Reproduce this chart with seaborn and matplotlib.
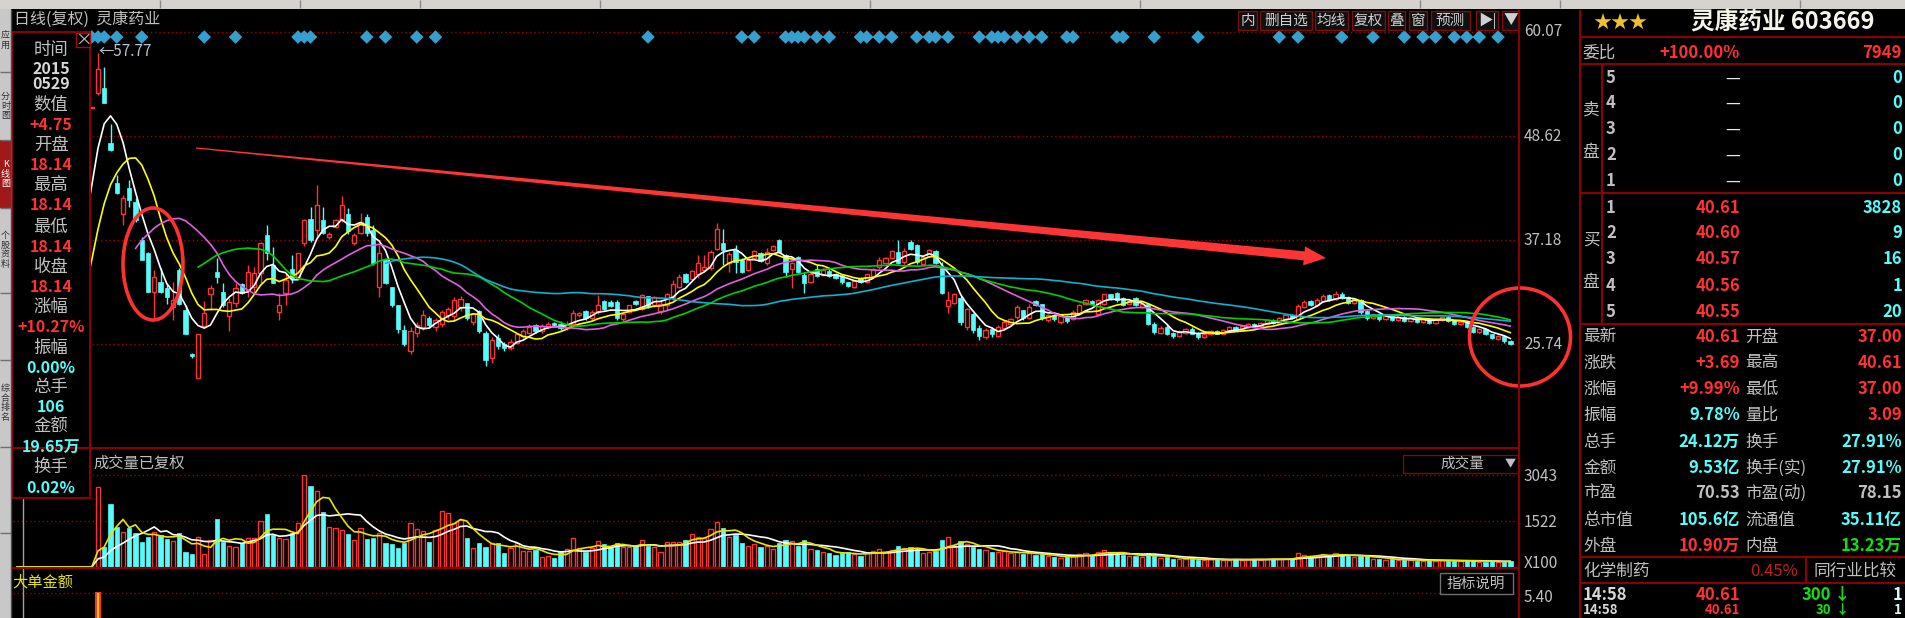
import numpy as np
import pandas as pd
import matplotlib
matplotlib.use("Agg")
import matplotlib.pyplot as plt
from matplotlib.patches import Rectangle, Ellipse, Polygon
import seaborn as sns

# ---------------- data ----------------
# first 13 days (IPO + limit-up run) lie under the info panel; visible days follow
open_px = [13.70, 18.14, 19.95, 21.95, 24.15, 26.56, 29.22, 32.14, 35.35, 38.89, 42.78, 47.06, 51.76,
           53.4, 53.9, 47.9, 43.5, 40.0, 42.9, 41.4, 37.2, 35.8, 31.5,
           32.6, 31.9, 29.8, 33.9, 29.5, 24.6, 22.0, 27.7, 31.3, 33.7,
           31.5, 28.8, 30.3, 32.4, 31.7, 32.0, 33.6, 37.7, 34.4, 29.3,
           31.4, 34.0, 33.1, 36.9, 39.5, 38.3, 39.4, 37.5, 38.6, 39.4,
           40.0, 36.9, 38.0, 39.7, 38.3, 32.0, 35.0, 32.0, 30.0, 27.3,
           25.0, 27.0, 27.6, 28.6, 27.6, 28.0, 28.9, 28.8, 29.8, 30.3,
           28.2, 29.4, 27.0, 24.2, 26.4, 25.7, 25.3, 25.9, 26.6, 27.0,
           27.8, 27.2, 27.6, 28.1, 28.0, 27.5, 28.0, 28.9, 29.4, 28.6,
           29.3, 30.5, 30.4, 30.4, 28.5, 29.3, 30.5, 29.6, 31.0, 30.0,
           29.4, 30.0, 30.9, 32.0, 33.4, 32.9, 33.4, 33.9, 34.1, 36.2,
           36.9, 34.7, 36.1, 35.0, 33.9, 35.2, 35.8, 34.7, 36.1, 37.2,
           35.5, 34.0, 35.3, 33.3, 32.6, 34.0, 33.3, 33.8, 33.4, 33.2,
           32.6, 32.0, 33.0, 32.6, 33.2, 34.2, 34.7, 35.2, 35.9, 34.8,
           37.0, 36.6, 34.6, 35.4, 36.0, 34.1, 29.9, 30.3, 30.8, 27.6,
           29.1, 27.5, 26.5, 27.4, 26.6, 27.5, 28.0, 28.7, 29.5, 28.6,
           30.5, 30.1, 28.4, 28.9, 28.2, 28.8, 28.5, 29.0, 30.1, 30.5,
           29.1, 30.2, 31.3, 31.4, 30.8, 30.2, 30.8, 29.8, 30.1, 28.0,
           27.0, 27.6, 27.0, 26.6, 27.0, 27.4, 27.0, 26.5, 26.8, 27.2,
           26.9, 27.2, 27.6, 27.3, 27.6, 28.0, 27.7, 28.0, 28.4, 28.1,
           28.5, 28.9, 28.5, 29.8, 30.5, 30.0, 30.5, 31.1, 30.7, 31.3,
           30.9, 30.3, 30.6, 29.4, 28.6, 29.0, 28.5, 28.8, 28.4, 28.7,
           28.3, 28.6, 28.2, 28.5, 28.1, 28.4, 28.7, 28.3, 27.9, 28.2,
           27.6, 27.1, 27.4, 26.8, 26.3, 26.6, 26.1]
high_px = [16.45, 18.14, 19.95, 21.95, 24.15, 26.56, 29.22, 32.14, 35.35, 38.89, 42.78, 47.06, 51.76,
           57.77, 56.2, 49.9, 44.3, 42.1, 43.8, 41.8, 37.5, 35.9, 33.9,
           34.1, 32.4, 32.6, 34.1, 30.0, 24.8, 26.8, 30.5, 32.2, 35.2,
           32.5, 30.8, 32.5, 32.5, 34.4, 34.2, 37.0, 38.8, 36.4, 31.4,
           33.6, 35.5, 35.8, 39.5, 40.8, 43.2, 40.8, 38.1, 39.5, 42.0,
           40.7, 38.0, 40.2, 40.0, 38.8, 36.6, 35.0, 32.0, 30.0, 27.8,
           27.6, 28.2, 29.5, 28.8, 28.6, 29.5, 29.8, 30.9, 31.0, 30.3,
           29.2, 29.5, 27.2, 26.5, 26.8, 26.0, 26.3, 27.0, 27.4, 27.9,
           28.0, 27.9, 28.2, 28.2, 28.3, 28.3, 29.5, 29.3, 29.5, 29.5,
           31.1, 30.6, 30.6, 30.6, 29.2, 30.0, 30.6, 31.2, 31.0, 31.0,
           30.6, 31.4, 32.8, 33.4, 33.6, 33.9, 35.5, 35.5, 36.1, 39.1,
           38.4, 35.9, 36.6, 35.2, 35.0, 36.1, 35.9, 36.3, 36.6, 37.3,
           35.6, 34.8, 35.4, 33.7, 33.7, 34.4, 34.1, 34.0, 33.6, 33.4,
           32.6, 32.8, 33.1, 33.5, 34.1, 35.3, 35.3, 36.1, 37.2, 36.3,
           37.2, 36.7, 35.4, 36.2, 36.1, 34.8, 31.6, 31.4, 31.0, 29.7,
           29.2, 27.8, 27.5, 27.6, 27.8, 28.4, 28.6, 30.0, 29.5, 30.2,
           30.6, 30.1, 29.0, 29.0, 28.9, 28.9, 29.5, 30.1, 30.7, 30.6,
           30.7, 31.3, 31.3, 31.5, 30.9, 30.7, 30.9, 30.3, 30.1, 28.2,
           27.7, 27.8, 27.1, 27.3, 27.5, 27.6, 27.1, 27.0, 27.3, 27.3,
           27.4, 27.7, 27.7, 27.8, 28.1, 28.1, 28.2, 28.5, 28.5, 28.7,
           29.0, 29.0, 30.2, 30.6, 30.6, 30.8, 31.2, 31.2, 31.6, 31.5,
           31.0, 30.8, 30.7, 29.5, 29.1, 29.1, 28.9, 28.9, 28.8, 28.8,
           28.7, 28.7, 28.6, 28.6, 28.6, 28.8, 28.8, 28.4, 28.3, 28.3,
           27.7, 27.5, 27.5, 26.9, 26.7, 26.7, 26.2]
low_px = [13.70, 18.14, 19.95, 21.95, 24.15, 26.56, 29.22, 32.14, 35.35, 38.89, 42.78, 47.06, 51.76,
          53.1, 52.3, 47.0, 42.3, 38.8, 40.8, 39.2, 35.0, 31.5, 28.4,
          31.4, 30.2, 28.4, 30.0, 26.9, 24.2, 22.0, 27.5, 29.5, 32.5,
          29.8, 27.2, 29.8, 31.2, 30.9, 31.5, 32.5, 35.0, 32.5, 28.4,
          30.0, 32.5, 33.0, 36.5, 37.0, 37.5, 37.9, 37.3, 38.5, 39.2,
          37.9, 36.6, 37.8, 37.6, 34.4, 30.9, 32.3, 29.8, 27.0, 25.5,
          24.6, 26.5, 27.3, 27.5, 27.2, 27.6, 28.5, 28.3, 29.4, 28.4,
          27.8, 27.0, 23.3, 23.7, 25.2, 25.0, 25.1, 25.7, 26.4, 26.8,
          27.0, 27.0, 27.4, 27.6, 27.3, 27.3, 27.9, 28.7, 28.4, 28.4,
          29.1, 29.5, 29.8, 28.4, 28.3, 29.2, 30.0, 29.5, 29.7, 29.8,
          29.1, 29.5, 30.6, 31.9, 32.5, 32.8, 33.0, 33.7, 33.9, 36.1,
          34.4, 33.7, 33.6, 33.6, 33.8, 35.1, 34.8, 34.4, 36.0, 35.8,
          33.1, 31.9, 33.6, 31.4, 32.5, 33.1, 33.2, 33.1, 32.9, 32.4,
          32.0, 31.9, 32.5, 32.5, 33.1, 34.0, 34.6, 35.1, 34.5, 34.6,
          36.1, 34.6, 34.4, 35.3, 34.6, 31.3, 29.2, 30.2, 27.8, 27.3,
          27.0, 26.2, 26.3, 26.5, 26.5, 27.4, 27.9, 28.5, 28.4, 28.5,
          29.9, 28.4, 28.2, 28.3, 28.0, 28.1, 28.4, 28.9, 30.0, 30.0,
          28.9, 30.0, 30.6, 30.4, 29.9, 30.1, 29.9, 29.7, 27.8, 26.9,
          26.8, 26.7, 26.4, 26.5, 26.9, 26.8, 26.3, 26.4, 26.7, 26.8,
          26.8, 27.1, 27.2, 27.2, 27.5, 27.6, 27.6, 27.9, 28.0, 28.0,
          28.4, 28.5, 28.4, 29.7, 29.9, 29.9, 30.4, 30.5, 30.6, 30.7,
          30.2, 30.2, 29.1, 28.4, 28.5, 28.3, 28.4, 28.3, 28.3, 28.2,
          28.2, 28.1, 28.1, 28.0, 28.0, 28.3, 28.2, 27.8, 27.8, 27.5,
          27.0, 27.0, 26.7, 26.3, 26.2, 25.9, 25.6]
close_px = [16.45, 18.14, 19.95, 21.95, 24.15, 26.56, 29.22, 32.14, 35.35, 38.89, 42.78, 47.06, 51.76,
            56.0, 52.3, 47.1, 42.4, 41.8, 41.6, 39.4, 35.0, 31.5, 33.1,
            31.5, 30.9, 30.6, 30.2, 26.9, 24.4, 26.8, 29.2, 31.9, 33.1,
            30.0, 30.4, 31.9, 31.4, 33.7, 33.6, 36.9, 35.8, 32.5, 30.0,
            32.8, 33.0, 35.8, 39.4, 37.2, 41.0, 38.0, 37.9, 39.4, 41.0,
            38.2, 37.7, 39.2, 38.0, 34.7, 35.8, 32.5, 30.0, 27.4, 25.8,
            27.2, 27.8, 28.9, 27.8, 28.4, 29.3, 29.6, 30.6, 30.7, 28.6,
            29.0, 27.2, 24.0, 26.2, 25.5, 25.3, 26.0, 26.8, 27.2, 27.6,
            27.2, 27.7, 28.0, 27.8, 27.5, 28.0, 29.2, 29.2, 28.6, 29.3,
            30.0, 29.6, 29.9, 28.6, 29.1, 30.0, 30.1, 31.1, 29.9, 30.9,
            30.2, 31.2, 32.3, 33.1, 32.6, 33.8, 34.7, 34.2, 35.9, 38.4,
            36.1, 35.6, 34.8, 33.7, 35.0, 36.0, 34.9, 35.9, 36.5, 35.9,
            33.7, 34.7, 33.7, 32.5, 33.5, 33.2, 33.9, 33.2, 33.0, 32.6,
            32.1, 32.7, 32.6, 33.4, 34.0, 35.0, 35.2, 36.0, 34.7, 36.0,
            36.2, 34.8, 35.3, 36.1, 34.7, 31.4, 30.6, 31.2, 28.2, 29.6,
            27.3, 26.6, 27.3, 26.8, 27.6, 28.2, 28.5, 29.8, 28.6, 29.8,
            30.0, 28.6, 28.9, 28.5, 28.8, 28.3, 29.3, 30.0, 30.6, 30.1,
            30.6, 31.2, 30.8, 30.6, 30.0, 30.5, 30.0, 30.2, 28.0, 27.1,
            27.5, 26.9, 26.6, 27.1, 27.4, 26.9, 26.5, 26.9, 27.2, 26.9,
            27.3, 27.6, 27.3, 27.7, 28.0, 27.7, 28.1, 28.4, 28.1, 28.6,
            28.9, 28.6, 29.9, 30.4, 30.0, 30.6, 31.0, 30.6, 31.3, 30.8,
            30.3, 30.7, 29.3, 28.6, 29.0, 28.5, 28.8, 28.4, 28.7, 28.3,
            28.6, 28.2, 28.5, 28.1, 28.5, 28.7, 28.3, 27.9, 28.2, 27.6,
            27.1, 27.4, 26.8, 26.4, 26.6, 26.1, 25.8]
# volume in units of 100 lots
volume = [3.5, 1.06, 0.6, 0.5, 0.6, 0.8, 0.9, 1.2, 1.5, 2.0, 2.8, 4.5, 8.0,
          2646, 661, 2083, 1323, 1157, 1290, 1124, 827, 992, 1157,
          1058, 926, 860, 1124, 496, 430, 992, 430, 893, 1587,
          827, 694, 661, 794, 959, 959, 1521, 1753, 1058, 959,
          926, 1124, 1455, 3043, 2679, 2513, 1819, 1323, 1290, 1224,
          1091, 893, 1290, 926, 959, 1124, 794, 761, 628, 794,
          1455, 1257, 1191, 827, 1224, 1852, 1786, 1455, 1554, 959,
          628, 794, 661, 794, 794, 463, 628, 794, 529, 529,
          562, 331, 364, 298, 496, 595, 959, 628, 496, 628,
          860, 761, 661, 794, 661, 661, 694, 893, 694, 661,
          496, 827, 827, 827,
          900, 1100, 1000, 950, 1250, 1500,
          1300, 1000, 1050, 800, 700, 750, 650, 700, 600, 800, 900,
          850, 700, 900, 600, 550, 500, 450, 400, 450, 500, 420, 380, 450, 520, 600, 480, 550,
          700, 620, 650, 600, 450, 480, 520,
          900, 1000, 700, 850, 750, 650,
          600, 550, 500, 480, 520, 450, 500, 420, 460, 400,
          420, 350, 330, 300, 320, 380, 420, 450, 380, 500, 550, 480, 450, 400, 350, 380, 330,
          450, 380, 300, 320, 280, 260, 250, 270, 240, 230, 250, 260, 220, 240, 260, 230,
          250, 270, 240, 260, 280, 250, 270, 260,
          450, 400, 350, 380, 420, 380, 450, 400, 350, 330,
          380, 350, 280, 260, 240, 250, 230, 220, 240, 210, 200, 230, 210, 220, 200, 190,
          210, 200, 230, 180, 170, 190, 160, 180, 200]
signal_days = [12, 13, 14, 16, 20, 30, 35, 45, 46, 47, 56, 59, 64, 67, 101, 116, 118, 123, 124,
               125, 126, 128, 130, 135, 136, 138, 140, 144, 146, 147, 149, 154, 156, 157, 158,
               160, 162, 164, 168, 169, 176, 177, 182, 189, 202, 205, 212, 217, 222, 225, 227,
               230, 232, 234, 237]
big_order_days = [13]
big_order_vals = [5.5]
ma_windows = [5, 10, 20, 30, 60]
ma_colors = ['#FFFFFF', '#FFFF00', '#E060E0', '#00D000', '#10B0D0']
price_ticks = [60.07, 48.62, 37.18, 25.74]
vol_ticks = [3043, 1522]
cursor_day = 1

# ---------------- style ----------------
sns.set_theme(style='dark', rc={'axes.facecolor': 'black', 'figure.facecolor': 'black'})
plt.rcParams['font.family'] = ['Noto Sans CJK SC', 'DejaVu Sans']
plt.rcParams['axes.unicode_minus'] = False

RED = '#FF3232'
CYAN = '#54FCFC'
GRAY = '#C0C0C0'
DRED = '#8B0000'
W, H = 1905, 618

fig = plt.figure(figsize=(W / 100, H / 100), dpi=100, facecolor='black')


def px_axes(x0, y0, x1, y1, **kw):
    return fig.add_axes([x0 / W, 1 - y1 / H, (x1 - x0) / W, (y1 - y0) / H], **kw)


N = len(close_px)
k = np.arange(N)
o = np.array(open_px); h = np.array(high_px); l = np.array(low_px); c = np.array(close_px)
v = np.array(volume)
up = c >= o
XL = (-0.6, 240.36)

# ---------------- price panel ----------------
ax_p = px_axes(13, 28, 1519, 447)
ax_p.set_facecolor('black')
ax_p.set_xlim(*XL)
ax_p.set_ylim(14.42, 60.51)
for t in price_ticks:
    ax_p.axhline(t, color='#A00000', lw=1, ls=(0, (1, 2)), zorder=1)
ax_p.vlines(k, l, h, colors=np.where(up, RED, CYAN), lw=1, zorder=2)
blo = np.minimum(o, c)
bh = np.maximum(np.abs(c - o), 0.08)
ax_p.bar(k[up], bh[up], bottom=blo[up], width=0.66, facecolor='black', edgecolor=RED, lw=1, zorder=3)
ax_p.bar(k[~up], bh[~up], bottom=blo[~up], width=0.66, facecolor=CYAN, edgecolor=CYAN, lw=0.5, zorder=3)
df = pd.DataFrame({'k': k, 'close': c, 'vol': v})
for w, col in zip(ma_windows, ma_colors):
    df[f'ma{w}'] = df['close'].rolling(w).mean()
    sns.lineplot(data=df, x='k', y=f'ma{w}', ax=ax_p, color=col, lw=1.2, legend=False, zorder=4)
ax_p.scatter(np.array(signal_days), np.full(len(signal_days), 59.52), marker='D', s=48,
             color='#33A0D0', edgecolors='none', zorder=5)

# ---------------- volume panel ----------------
ax_v = px_axes(13, 449, 1519, 567)
ax_v.set_facecolor('black')
ax_v.set_xlim(*XL)
ax_v.set_ylim(0, 3902)
for t in vol_ticks:
    ax_v.axhline(t, color='#A00000', lw=1, ls=(0, (1, 2)), zorder=1)
ax_v.bar(k[up], v[up], width=0.66, facecolor='black', edgecolor=RED, lw=1, zorder=3)
ax_v.bar(k[~up], v[~up], width=0.66, facecolor=CYAN, edgecolor=CYAN, lw=0.5, zorder=3)
df['vma5'] = df['vol'].rolling(5, min_periods=1).mean()
df['vma10'] = df['vol'].rolling(10, min_periods=1).mean()
sns.lineplot(data=df, x='k', y='vma10', ax=ax_v, color='#FFFFFF', lw=1.2, legend=False, zorder=4)
sns.lineplot(data=df, x='k', y='vma5', ax=ax_v, color='#E6E600', lw=1.2, legend=False, zorder=4)
ax_v.axvline(cursor_day, color='#A0A0A0', lw=1, zorder=2)

# ---------------- big order panel ----------------
ax_b = px_axes(13, 569, 1519, 618)
ax_b.set_facecolor('black')
ax_b.set_xlim(*XL)
ax_b.set_ylim(0, 10.6)
ax_b.axhline(5.40, color='#A00000', lw=1, ls=(0, (1, 2)), zorder=1)
ax_b.bar(big_order_days, big_order_vals, width=0.7, facecolor='black', edgecolor=RED, lw=1.5, zorder=3)
ax_b.vlines(big_order_days, 0, big_order_vals, colors='#FFFF00', lw=1.2, zorder=4)
ax_b.axvline(cursor_day, color='#A0A0A0', lw=1, zorder=2)

for a in (ax_p, ax_v, ax_b):
    a.set_xticks([]); a.set_yticks([])
    a.set_xlabel(''); a.set_ylabel('')
    for s in a.spines.values():
        s.set_visible(False)

# ---------------- overlay (pixel coordinates) ----------------
ax_o = fig.add_axes([0, 0, 1, 1], zorder=10)
ax_o.set_xlim(0, W); ax_o.set_ylim(H, 0)
ax_o.axis('off')
ax_o.patch.set_alpha(0)


def T(x, y, s, col=GRAY, fs=12, ha='left', va='center', bold=False, **kw):
    ax_o.text(x, y, s, color=col, fontsize=fs, ha=ha, va=va,
              fontweight='bold' if bold else 'normal', **kw)


def hline(y, x0, x1, col=DRED, lw=1.5):
    ax_o.plot([x0, x1], [y, y], color=col, lw=lw, solid_capstyle='butt')


def vline(x, y0, y1, col=DRED, lw=1.5):
    ax_o.plot([x, x], [y0, y1], color=col, lw=lw, solid_capstyle='butt')


# top light toolbar strip and left tab strip
ax_o.add_patch(Rectangle((0, 0), W, 9, facecolor='#D6D3CE', edgecolor='none'))
for xs in [160, 300, 420, 600, 870, 1140, 1420, 1560, 1800]:
    vline(xs, 0, 8, col='#8A8A8A', lw=1)
ax_o.add_patch(Rectangle((0, 9), 11, H - 9, facecolor='#C8C8C8', edgecolor='none'))
ax_o.add_patch(Rectangle((0, 140), 11, 68, facecolor='#A01818', edgecolor='none'))
for ys in [72, 140, 208, 293, 360, 447, 533]:
    hline(ys, 0, 11, col='#707070', lw=1)
tabs = [(41, '应\n用', '#303030'), (106, '分\n时\n图', '#303030'), (174, 'K\n线\n图', '#FFFFFF'),
        (250, '个\n股\n资\n料', '#303030'), (403, '综\n合\n排\n名', '#303030')]
for yy, s, col in tabs:
    T(5.5, yy, s, col=col, fs=6.5, ha='center', linespacing=1.1)
vline(11, 9, H, col='#505050', lw=1)

# title bar
T(14, 19, '日线(复权)  灵康药业', col=GRAY, fs=11.5)
btns = [(1238, 1257, '内'), (1260, 1312, '删自选'), (1315, 1348, '均线'), (1352, 1385, '复权'),
        (1388, 1405, '叠'), (1409, 1427, '窗'), (1431, 1470, '预测'), (1476, 1498, '▶|'), (1502, 1519, '▼')]
for x0, x1, s in btns:
    ax_o.add_patch(Rectangle((x0, 11), x1 - x0, 19, facecolor='#101010', edgecolor='#7A1010', lw=1))
    T((x0 + x1) / 2, 20.5, s, col='#D0D0D0', fs=10.5, ha='center')

# chart borders
vline(1519, 10, H, col=DRED, lw=1.5)
vline(1580, 10, H, col=DRED, lw=1.5)
hline(448, 12, 1519, col=DRED, lw=1.5)
hline(567.5, 12, 1519, col=DRED, lw=1.5)

# right axis labels
for t in price_ticks:
    y = 28 + (60.51 - t) / (60.51 - 14.42) * (447 - 28)
    T(1524, y, f'{t:.2f}', col=GRAY, fs=11)
for t in vol_ticks:
    y = 567 - t / 3902 * (567 - 449)
    T(1524, y + 2, f'{t}', col=GRAY, fs=11)
T(1524, 563, 'X100', col=GRAY, fs=11)
T(1524, 597, '5.40', col=GRAY, fs=11)

# price max marker
T(98, 52, '←57.77', col='#B8C4D0', fs=11)

# annotations: ellipses and trend arrow
ax_o.add_patch(Ellipse((153, 264), 60, 112, facecolor='none', edgecolor='#FF3030', lw=2.6))
ax_o.add_patch(Ellipse((1520, 337), 101, 98, facecolor='none', edgecolor='#FF3030', lw=2.6))
arrow_start = np.array([196.0, 148.0])
arrow_tip = np.array([1326.0, 258.0])
u = (arrow_tip - arrow_start) / np.linalg.norm(arrow_tip - arrow_start)
n = np.array([-u[1], u[0]])
base = arrow_tip - 22 * u
pts = [arrow_start + 0.6 * n, base + 4.5 * n, base + 9.5 * n, arrow_tip,
       base - 9.5 * n, base - 4.5 * n, arrow_start - 0.6 * n]
ax_o.add_patch(Polygon(pts, closed=True, facecolor='#FF3535', edgecolor='none'))

# left info panel
ax_o.add_patch(Rectangle((12, 32), 78, 466, facecolor='black', edgecolor=DRED, lw=1.5))
ax_o.add_patch(Rectangle((76, 33), 14, 14, facecolor='black', edgecolor='#A01010', lw=1))
T(83, 40, '×', col=GRAY, fs=12, ha='center')
info = [(50, '时间', GRAY, False), (69, '2015', '#D8D8D8', True), (84, '0529', '#D8D8D8', True),
        (105, '数值', GRAY, False), (125, '+4.75', RED, True), (145, '开盘', GRAY, False),
        (165, '18.14', RED, True), (185, '最高', GRAY, False), (205, '18.14', RED, True),
        (227, '最低', GRAY, False), (247, '18.14', RED, True), (267, '收盘', GRAY, False),
        (287, '18.14', RED, True), (307, '涨幅', GRAY, False), (327, '+10.27%', RED, True),
        (348, '振幅', GRAY, False), (368, '0.00%', CYAN, True), (387, '总手', GRAY, False),
        (407, '106', CYAN, True), (427, '金额', GRAY, False), (447, '19.65万', CYAN, True),
        (467, '换手', GRAY, False), (488, '0.02%', CYAN, True)]
for yy, s, col, b in info:
    T(51, yy, s, col=col, fs=12.5 if not b else 11.5, ha='center', bold=b)

# volume panel labels
T(93, 463, '成交量已复权', col=GRAY, fs=11)
ax_o.add_patch(Rectangle((1403, 455), 116, 18, facecolor='black', edgecolor='#6A1010', lw=1))
T(1462, 464, '成交量', col=GRAY, fs=10.5, ha='center')
T(1510, 464, '▼', col=GRAY, fs=8, ha='center')
T(12, 582, '大单金额', col='#E6E600', fs=11)
ax_o.add_patch(Rectangle((1440, 573), 73, 21, facecolor='black', edgecolor='#707070', lw=1))
T(1476, 583.5, '指标说明', col=GRAY, fs=10.5, ha='center')

# ---------------- right quote panel ----------------
T(1620, 23, '★★★', col='#F0C030', fs=13, ha='center')
T(1783, 23, '灵康药业 603669', col='#F4F4E8', fs=17, ha='center', bold=True)
for yy in [37, 64, 193, 324, 557, 583]:
    hline(yy, 1580, W, col=DRED, lw=1.5)
vline(1602, 64, 324, col=DRED, lw=1.5)
vline(1806, 557, 583, col=DRED, lw=1.5)
T(1582, 53, '委比', fs=12)
T(1740, 53, '+100.00%', col=RED, fs=12, ha='right', bold=True)
T(1902, 53, '7949', col=RED, fs=12, ha='right', bold=True)
T(1591, 110, '卖', fs=12, ha='center'); T(1591, 152, '盘', fs=12, ha='center')
T(1591, 240, '买', fs=12, ha='center'); T(1591, 282, '盘', fs=12, ha='center')
sell_rows = [78, 103, 129, 155, 181]
for yy, lv in zip(sell_rows, ['5', '4', '3', '2', '1']):
    T(1606, yy, lv, fs=12, bold=True)
    T(1740, yy, '—', col='#E8E8E8', fs=12, ha='right')
    T(1902, yy, '0', col=CYAN, fs=12, ha='right', bold=True)
buy_rows = [208, 233, 259, 286, 312]
buy_px = ['40.61', '40.60', '40.57', '40.56', '40.55']
buy_vol = ['3828', '9', '16', '1', '20']
for yy, lv, p, q in zip(buy_rows, ['1', '2', '3', '4', '5'], buy_px, buy_vol):
    T(1606, yy, lv, fs=12, bold=True)
    T(1740, yy, p, col=RED, fs=12, ha='right', bold=True)
    T(1902, yy, q, col=CYAN, fs=12, ha='right', bold=True)
GREEN = '#10E010'
stats = [('最新', '40.61', RED, '开盘', '37.00', RED),
         ('涨跌', '+3.69', RED, '最高', '40.61', RED),
         ('涨幅', '+9.99%', RED, '最低', '37.00', RED),
         ('振幅', '9.78%', CYAN, '量比', '3.09', RED),
         ('总手', '24.12万', CYAN, '换手', '27.91%', CYAN),
         ('金额', '9.53亿', CYAN, '换手(实)', '27.91%', CYAN),
         ('市盈', '70.53', GRAY, '市盈(动)', '78.15', GRAY),
         ('总市值', '105.6亿', CYAN, '流通值', '35.11亿', CYAN),
         ('外盘', '10.90万', RED, '内盘', '13.23万', GREEN)]
stat_rows = [337, 363, 389, 415, 442, 468, 493, 520, 546]
for yy, (l1, v1, c1, l2, v2, c2) in zip(stat_rows, stats):
    T(1583, yy, l1, fs=12)
    T(1740, yy, v1, col=c1, fs=12, ha='right', bold=True)
    T(1745, yy, l2, fs=12)
    T(1902, yy, v2, col=c2, fs=12, ha='right', bold=True)
T(1583, 571, '化学制药', fs=12)
T(1798, 571, '0.45%', col='#C02020', fs=12, ha='right')
T(1855, 571, '同行业比较', fs=12, ha='center')
T(1583, 595, '14:58', col='#D8D8D8', fs=12, bold=True)
T(1740, 595, '40.61', col=RED, fs=12, ha='right', bold=True)
T(1831, 595, '300', col=GREEN, fs=12, ha='right', bold=True)
T(1842, 595, '↓', col=GREEN, fs=12, ha='center', bold=True)
T(1902, 595, '1', col='#D8F8F8', fs=12, ha='right', bold=True)
T(1583, 610, '14:58', col='#D8D8D8', fs=9.5, bold=True)
T(1740, 610, '40.61', col=RED, fs=9.5, ha='right', bold=True)
T(1831, 610, '30', col=GREEN, fs=9.5, ha='right', bold=True)
T(1842, 610, '↓', col=GREEN, fs=9.5, ha='center', bold=True)
T(1902, 610, '1', col='#D8F8F8', fs=9.5, ha='right', bold=True)

fig.savefig('out.png', dpi=100, facecolor='black')
